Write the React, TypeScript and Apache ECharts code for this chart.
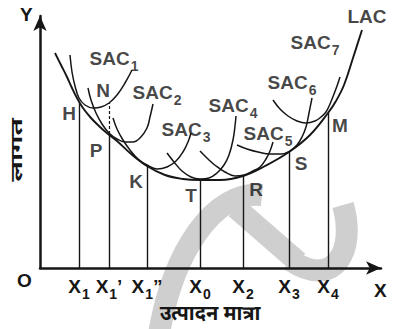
import React, { useEffect, useRef } from 'react';
import * as echarts from 'echarts';

// Curves (x = output quantity, y = cost)
const LAC: number[][] = [
  [15, 215], [21, 203], [27, 191], [32, 180], [37, 170], [43, 160], [51, 150], [60, 141],
  [68, 134], [77, 127], [90, 115], [107, 102], [125, 93], [143, 89], [160, 88], [180, 88],
  [203, 92], [225, 102], [249, 116], [270, 133], [288, 155], [296, 167], [304, 183],
  [313, 210], [322, 238],
];
const SAC1: number[][] = [
  [30, 213], [32, 196], [35, 182], [39, 170], [45, 163], [53, 160], [61, 161], [69, 165],
  [77, 173], [85, 185], [92, 198],
];
const SAC2: number[][] = [
  [48, 180], [51, 168], [56, 155], [62, 144], [69, 135], [77, 129], [85, 126], [93, 126],
  [100, 130], [107, 140], [110, 151], [113, 164],
];
const SAC3: number[][] = [
  [73, 150], [77, 139], [83, 128], [90, 118], [98, 109], [107, 103], [117, 99], [127, 101],
  [136, 107], [143, 116], [148, 126], [151, 135],
];
const SAC4: number[][] = [
  [127, 115], [134, 106], [142, 97], [151, 91], [160, 89], [169, 90], [177, 95], [184, 103],
  [189, 113], [193, 128], [195, 142], [196, 152],
];
const SAC5: number[][] = [
  [160, 117], [168, 109], [176, 102], [185, 96], [195, 92], [204, 93], [213, 97], [220, 101],
  [226, 109], [230, 117], [233, 126],
];
const SAC6: number[][] = [
  [197, 123], [207, 119], [218, 116], [230, 114], [241, 114], [250, 117], [257, 123],
  [262, 131], [266, 141], [269, 155], [272, 170],
];
const SAC7: number[][] = [
  [233, 168], [240, 159], [248, 152], [257, 147], [266, 145], [275, 147], [281, 151],
  [286, 156], [290, 164], [294, 174], [297, 182], [300, 191],
];
const sacCurves = [SAC1, SAC2, SAC3, SAC4, SAC5, SAC6, SAC7];
const sacSubs = ['1', '2', '3', '4', '5', '6', '7'];

// Tangency points dropped to the output axis
const dropNames = ['H', 'P', 'K', 'T', 'R', 'S', 'M'];
const dropX = [39, 69, 107, 160, 203, 249, 288];
const dropY = [165, 134, 102, 88, 92, 116, 155];
const pointN = [69, 165];

// Tick labels of the output axis
const tickValues = [39, 69, 107, 160, 203, 249, 288];
const tickSubs = ['1', '1', '1', '0', '2', '3', '4'];
const tickPrimes = ['', '\u2019', '\u201D', '', '', '', ''];

const xTitle = 'उत्पादन मात्रा';
const yTitle = 'लागत';

const FONT = '"Liberation Sans", Arial, Helvetica, sans-serif';
const HINDI = '"Noto Sans Devanagari", "Lohit Devanagari", "FreeSans", "Noto Sans", sans-serif';
const INK = '#161616';
const GREY = '#cfcfcf';

// label offsets (pixels) relative to the anchoring mark
const dropLabelOffsets = [[-10, 10], [-13, 16], [-11, 15], [-9, 15], [13, 13], [12, 11], [12, 12]];
const sacLabelOffsets = [[-18, -9], [4, -9], [-5, -1], [-3, -8], [-5, -6], [-20, -13], [-25, -32]];

const rich = {
  l: { fontSize: 19, fontFamily: FONT, fontWeight: 'bold', color: INK, lineHeight: 20 },
  m: { fontSize: 19, fontFamily: FONT, fontWeight: 'bold', color: INK, lineHeight: 24, verticalAlign: 'top' },
  s: { fontSize: 14, fontFamily: FONT, fontWeight: 'bold', color: INK, lineHeight: 14, padding: [0, 0, 0, 1], verticalAlign: 'bottom' },
};

export default function App() {
  const ref = useRef<HTMLDivElement>(null);
  useEffect(() => {
    if (!ref.current) return;
    const chart = echarts.init(ref.current, undefined, { renderer: 'svg' });

    const annotations: any[] = [];
    dropNames.forEach((n, i) => {
      annotations.push({
        value: [dropX[i], dropY[i]],
        label: { formatter: '{l|' + n + '}', offset: dropLabelOffsets[i] },
      });
    });
    annotations.push({ value: pointN, label: { formatter: '{l|N}', offset: [-6, -13] } });
    sacCurves.forEach((c, i) => {
      annotations.push({
        value: c[c.length - 1],
        label: { formatter: '{m|SAC}{s|' + sacSubs[i] + '}', offset: sacLabelOffsets[i] },
      });
    });
    annotations.push({ value: LAC[LAC.length - 1], label: { formatter: '{l|LAC}', offset: [5, -14] } });

    const series: any[] = [
      {
        type: 'line',
        data: LAC,
        smooth: 0.4,
        symbol: 'none',
        lineStyle: { color: INK, width: 1.9 },
        z: 3,
        markLine: {
          silent: true,
          symbol: ['none', 'none'],
          label: { show: false },
          lineStyle: { color: INK, width: 1.4, type: 'solid' },
          data: [
            ...dropX.map((x, i) => [{ coord: [x, 0] }, { coord: [x, dropY[i]] }]),
            [
              { coord: [pointN[0], dropY[1]], lineStyle: { type: [3, 2], width: 1.2 } },
              { coord: [pointN[0], pointN[1]] },
            ],
          ],
        },
      },
      ...sacCurves.map((c) => ({
        type: 'line',
        data: c,
        smooth: 0.4,
        symbol: 'none',
        lineStyle: { color: INK, width: 1.5 },
        z: 3,
      })),
      {
        type: 'scatter',
        data: annotations,
        symbolSize: 0,
        silent: true,
        z: 4,
        label: { show: true, position: 'inside', align: 'center', verticalAlign: 'middle', rich },
      },
    ];

    chart.setOption({
      animation: false,
      backgroundColor: '#ffffff',
      grid: { left: 40, top: 16, width: 341, height: 252, containLabel: false, outerBoundsMode: 'none' },
      xAxis: {
        type: 'value',
        min: 0,
        max: 341,
        axisLine: { show: true, symbol: ['none', 'arrow'], symbolSize: [10, 15], lineStyle: { color: INK, width: 2.5 } },
        axisTick: { show: false },
        splitLine: { show: false },
        axisLabel: {
          show: true,
          customValues: tickValues,
          margin: 9,
          formatter: (v: number) => {
            const i = tickValues.indexOf(v);
            if (i < 0) return '';
            return '{m|X}{s|' + tickSubs[i] + '}' + (tickPrimes[i] ? '{m|' + tickPrimes[i] + '}' : '');
          },
          rich,
        },
      },
      yAxis: {
        type: 'value',
        min: 0,
        max: 252,
        axisLine: { show: true, symbol: ['none', 'arrow'], symbolSize: [10, 15], lineStyle: { color: INK, width: 2.5 } },
        axisTick: { show: false },
        axisLabel: { show: false },
        splitLine: { show: false },
      },
      graphic: {
        elements: [
          { type: 'bezierCurve', z: -1, silent: true, shape: { x1: 158, y1: 340, cpx1: 172, cpy1: 250, cpx2: 215, cpy2: 190, x2: 262, y2: 195 }, style: { stroke: GREY, lineWidth: 22, fill: null } },
          { type: 'line', z: -1, silent: true, shape: { x1: 236, y1: 208, x2: 298, y2: 262 }, style: { stroke: GREY, lineWidth: 22 } },
          { type: 'bezierCurve', z: -1, silent: true, shape: { x1: 290, y1: 260, cpx1: 335, cpy1: 290, cpx2: 356, cpy2: 250, x2: 343, y2: 205 }, style: { stroke: GREY, lineWidth: 22, fill: null } },
          { type: 'text', z: 5, silent: true, x: 210, y: 315, style: { text: xTitle, font: 'bold 20px ' + HINDI, fill: INK, align: 'center', verticalAlign: 'middle' } },
          { type: 'text', z: 5, silent: true, x: 18, y: 150, rotation: Math.PI / 2, scaleX: 1.4, scaleY: 0.8, style: { text: yTitle, font: 'bold 20px ' + HINDI, fill: INK, align: 'center', verticalAlign: 'middle' } },
          { type: 'text', z: 5, silent: true, left: 20, top: 5, style: { text: 'Y', font: 'bold 19px ' + FONT, fill: INK } },
          { type: 'text', z: 5, silent: true, left: 17, top: 271, style: { text: 'O', font: 'bold 19px ' + FONT, fill: INK } },
          { type: 'text', z: 5, silent: true, left: 374, top: 281, style: { text: 'X', font: 'bold 19px ' + FONT, fill: INK } },
        ],
      },
      series,
    });
    return () => chart.dispose();
  }, []);
  return <div ref={ref} style={{ width: 396, height: 329, position: 'absolute', left: 0, top: 0 }} />;
}
